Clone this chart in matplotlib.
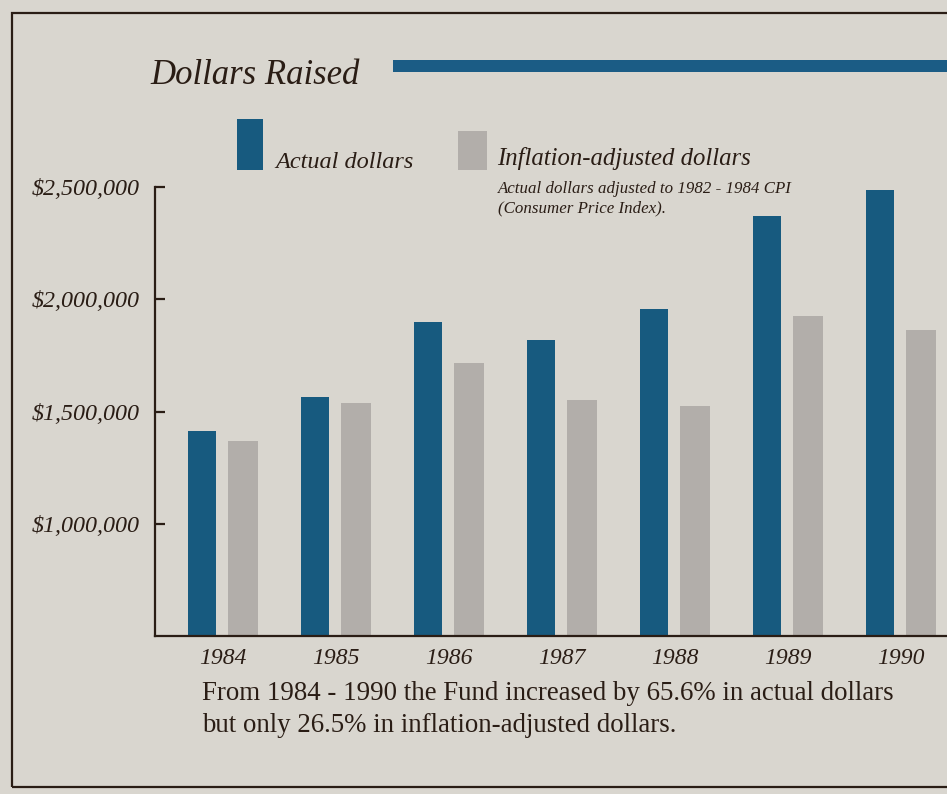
import matplotlib
matplotlib.use("Agg")
import matplotlib.pyplot as plt
from matplotlib.patches import Rectangle
from matplotlib.ticker import FuncFormatter

# values (dollars)
years = ["1984", "1985", "1986", "1987", "1988", "1989", "1990"]
actual = [1415000, 1565000, 1900000, 1820000, 1955000, 2370000, 2485000]
adjusted = [1370000, 1540000, 1715000, 1550000, 1525000, 1925000, 1865000]
y_ticks = [1000000, 1500000, 2000000, 2500000]

PAPER = "#d9d6cf"
BLUE = "#175a7f"
GREY = "#b2aeaa"
INK = "#2a1d15"
SERIF = ["Liberation Serif", "DejaVu Serif"]

W, H = 947, 794


def px(x, y):
    """pixel position (top-left origin) -> figure fraction"""
    return x / W, 1 - y / H


fig = plt.figure(figsize=(W / 100, H / 100), dpi=100, facecolor=PAPER)

# outer frame of the page
fig.patches.append(Rectangle(px(12, 787), (W + 10) / W, 774 / H, transform=fig.transFigure,
                             fill=False, ec=INK, lw=1.6))

ax = fig.add_axes([155 / W, 1 - 636 / H, (W - 155) / W, 449 / H])
ax.set_facecolor(PAPER)

x = list(range(len(years)))
off = 0.365
ax.bar(x, [v - 500000 for v in actual], bottom=500000, width=0.25, color=BLUE, align="center")
ax.bar([i + off for i in x], [v - 500000 for v in adjusted], bottom=500000, width=0.265,
       color=GREY, align="center")

ax.set_ylim(500000, 2500000)
ax.set_xlim(-0.416, 6.593)
ax.set_yticks(y_ticks)
ax.yaxis.set_major_formatter(FuncFormatter(lambda v, p: f"${v:,.0f}"))
ax.tick_params(axis="y", direction="in", length=7, width=1.6, color=INK, pad=11,
               labelsize=17.3, labelcolor=INK)
ax.set_xticks([i + off / 2 for i in x])
ax.set_xticklabels(years)
ax.tick_params(axis="x", length=0, pad=9, labelsize=17, labelcolor=INK)
for lab in ax.get_yticklabels() + ax.get_xticklabels():
    lab.set_family(SERIF)
    lab.set_style("italic")
for s in ("top", "right"):
    ax.spines[s].set_visible(False)
for s in ("left", "bottom"):
    ax.spines[s].set_linewidth(1.6)
    ax.spines[s].set_color(INK)

# title + rule
fig.text(*px(150, 76), "Dollars Raised", family=SERIF, style="italic", fontsize=25,
         color=INK, va="center", ha="left")
fig.patches.append(Rectangle(px(393, 72), (W - 393) / W, 12 / H, transform=fig.transFigure,
                             fc="#1b5c85", ec="none"))

# legend
fig.patches.append(Rectangle(px(237, 170), 26 / W, 51 / H, transform=fig.transFigure,
                             fc=BLUE, ec="none"))
fig.text(*px(275, 162), "Actual dollars", family=SERIF, style="italic", fontsize=17.5,
         color=INK, va="center", ha="left")
fig.patches.append(Rectangle(px(458, 170), 29 / W, 39 / H, transform=fig.transFigure,
                             fc=GREY, ec="none"))
fig.text(*px(497, 158), "Inflation-adjusted dollars", family=SERIF, style="italic",
         fontsize=17.8, color=INK, va="center", ha="left")
fig.text(*px(498, 189), "Actual dollars adjusted to 1982 - 1984 CPI", family=SERIF,
         style="italic", fontsize=12.2, color=INK, va="center", ha="left")
fig.text(*px(498, 208), "(Consumer Price Index).", family=SERIF, style="italic",
         fontsize=12.2, color=INK, va="center", ha="left")

# note under the chart
fig.text(*px(202, 693), "From 1984 - 1990 the Fund increased by 65.6% in actual dollars",
         family=SERIF, fontsize=19.4, color=INK, va="center", ha="left")
fig.text(*px(202, 725), "but only 26.5% in inflation-adjusted dollars.",
         family=SERIF, fontsize=19.4, color=INK, va="center", ha="left")

fig.savefig("out.png", dpi=100, facecolor=PAPER)
